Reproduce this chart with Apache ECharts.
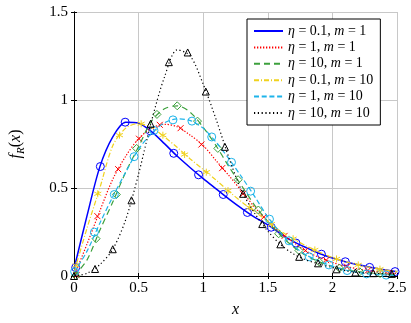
<!DOCTYPE html>
<html>
<head>
<meta charset="utf-8">
<script src="https://cdn.jsdelivr.net/npm/echarts@6/dist/echarts.min.js"></script>
<style>
  html, body { margin: 0; padding: 0; background: #fff; }
  #main { width: 411px; height: 323px; }
</style>
</head>
<body>
<div id="main"></div>
<script>
// curve samples (x step 0.1)
var xGrid = [0, 0.1, 0.2, 0.3, 0.4, 0.5, 0.6, 0.7, 0.8, 0.9, 1.0, 1.1, 1.2, 1.3, 1.4, 1.5, 1.6, 1.7, 1.8, 1.9, 2.0, 2.1, 2.2, 2.3, 2.4, 2.5];

var blueY   = [0.04, 0.34, 0.62, 0.79, 0.874, 0.868, 0.82, 0.752, 0.68, 0.615, 0.553, 0.495, 0.437, 0.383, 0.333, 0.29, 0.24, 0.195, 0.16, 0.128, 0.102, 0.081, 0.064, 0.048, 0.035, 0.024];
var redY    = [0.0, 0.18, 0.37, 0.55, 0.68, 0.78, 0.84, 0.862, 0.848, 0.8, 0.742, 0.655, 0.57, 0.48, 0.39, 0.31, 0.245, 0.19, 0.14, 0.105, 0.077, 0.055, 0.04, 0.028, 0.02, 0.014];
var greenY  = [0.0, 0.09, 0.26, 0.42, 0.59, 0.735, 0.88, 0.95, 0.967, 0.93, 0.845, 0.74, 0.62, 0.51, 0.40, 0.31, 0.23, 0.165, 0.115, 0.08, 0.055, 0.037, 0.025, 0.017, 0.011, 0.007];
var yellowY = [0.02, 0.27, 0.5, 0.74, 0.84, 0.866, 0.845, 0.79, 0.73, 0.665, 0.605, 0.545, 0.48, 0.42, 0.365, 0.31, 0.255, 0.21, 0.17, 0.135, 0.105, 0.082, 0.063, 0.047, 0.035, 0.025];
var cyanY   = [0.02, 0.14, 0.3, 0.45, 0.59, 0.72, 0.81, 0.87, 0.893, 0.883, 0.84, 0.76, 0.665, 0.56, 0.45, 0.335, 0.245, 0.17, 0.118, 0.085, 0.055, 0.034, 0.02, 0.01, 0.006, 0.003];
var blackY  = [0, 0.015, 0.065, 0.152, 0.32, 0.58, 0.88, 1.13, 1.285, 1.25, 1.09, 0.89, 0.67, 0.48, 0.355, 0.255, 0.178, 0.125, 0.09, 0.068, 0.048, 0.03, 0.02, 0.016, 0.013, 0.01];

// marker positions
var blueMarkX = [0.013, 0.204, 0.396, 0.59, 0.772, 0.964, 1.155, 1.342, 1.526, 1.718, 1.915, 2.10, 2.288, 2.485];
var blueMarkY = [0.048, 0.622, 0.874, 0.825, 0.697, 0.575, 0.463, 0.361, 0.277, 0.187, 0.124, 0.081, 0.049, 0.025];
var redMarkX = [0.02, 0.181, 0.342, 0.503, 0.664, 0.825, 0.986, 1.147, 1.308, 1.469, 1.63, 1.791, 1.952, 2.113, 2.274, 2.435];
var redMarkY = [0.005, 0.34, 0.607, 0.78, 0.859, 0.84, 0.747, 0.613, 0.467, 0.335, 0.228, 0.145, 0.09, 0.053, 0.031, 0.018];
var greenMarkX = [0.014, 0.171, 0.328, 0.485, 0.642, 0.799, 0.956, 1.113, 1.27, 1.427, 1.584, 1.741, 1.898, 2.055, 2.212, 2.369];
var greenMarkY = [0.002, 0.212, 0.463, 0.725, 0.918, 0.967, 0.88, 0.725, 0.547, 0.375, 0.24, 0.145, 0.08, 0.045, 0.024, 0.014];
var yellowMarkX = [0.016, 0.184, 0.352, 0.52, 0.688, 0.856, 1.024, 1.192, 1.36, 1.528, 1.696, 1.864, 2.032, 2.2, 2.368];
var yellowMarkY = [0.06, 0.467, 0.80, 0.865, 0.80, 0.69, 0.59, 0.485, 0.389, 0.295, 0.212, 0.148, 0.097, 0.063, 0.039];
var cyanMarkX = [0.005, 0.158, 0.312, 0.465, 0.619, 0.766, 0.913, 1.066, 1.219, 1.367, 1.513, 1.664, 1.82, 1.973, 2.114, 2.264, 2.416];
var cyanMarkY = [0.025, 0.249, 0.463, 0.678, 0.827, 0.887, 0.88, 0.79, 0.646, 0.482, 0.323, 0.2, 0.109, 0.063, 0.031, 0.012, 0.005];
var blackMarkX = [0, 0.163, 0.30, 0.445, 0.593, 0.734, 0.88, 1.02, 1.168, 1.309, 1.457, 1.597, 1.743, 1.889, 2.032, 2.178, 2.316, 2.46];
var blackMarkY = [0, 0.04, 0.152, 0.43, 0.865, 1.215, 1.27, 1.048, 0.734, 0.467, 0.295, 0.18, 0.109, 0.072, 0.038, 0.02, 0.016, 0.012];

var names = ['η = 0.1, m = 1', 'η = 1, m = 1', 'η = 10, m = 1', 'η = 0.1, m = 10', 'η = 1, m = 10', 'η = 10, m = 10'];

var serif = 'Liberation Serif';
var crossPath = 'path://M0,0L10,10M10,0L0,10';
var starPath = 'path://M5,0L5,10M0.7,2.5L9.3,7.5M0.7,7.5L9.3,2.5';

function pairs(xs, ys) {
    return xs.map(function (x, i) { return [x, ys[i]]; });
}

var curves = [
    { name: names[0], y: blueY,   mx: blueMarkX,   my: blueMarkY,   color: '#0000ff', width: 1.5, dash: 'solid',       symbol: 'circle',  size: 8 },
    { name: names[1], y: redY,    mx: redMarkX,    my: redMarkY,    color: '#ff0000', width: 1.2, dash: [1.3, 1.7],    symbol: crossPath, size: 6 },
    { name: names[2], y: greenY,  mx: greenMarkX,  my: greenMarkY,  color: '#3ca03c', width: 1.2, dash: [6, 4],        symbol: 'diamond', size: 8 },
    { name: names[3], y: yellowY, mx: yellowMarkX, my: yellowMarkY, color: '#f0d21e', width: 1.2, dash: [5, 2, 1, 2],  symbol: starPath,  size: 7 },
    { name: names[4], y: cyanY,   mx: cyanMarkX,   my: cyanMarkY,   color: '#1eb4ea', width: 1.2, dash: [5, 2.7],      symbol: 'circle',  size: 8 },
    { name: names[5], y: blackY,  mx: blackMarkX,  my: blackMarkY,  color: '#000000', width: 1.2, dash: [1.2, 2.6],    symbol: 'triangle', size: 7 }
];

var series = [];
curves.forEach(function (c, k) {
    series.push({
        name: c.name,
        type: 'line',
        smooth: 0.3,
        symbol: 'none',
        data: pairs(xGrid, c.y),
        lineStyle: { color: c.color, width: c.width, type: c.dash },
        itemStyle: { color: c.color },
        z: 2 + k * 2
    });
    series.push({
        name: 'mk' + k,
        type: 'scatter',
        symbol: c.symbol,
        symbolSize: c.size,
        data: pairs(c.mx, c.my),
        itemStyle: { color: 'rgba(0,0,0,0)', borderColor: c.color, borderWidth: 1, opacity: 1 },
        z: 3 + k * 2
    });
});

var axisCommon = {
    axisLine: { show: true, lineStyle: { color: '#000', width: 1 } },
    axisTick: { show: true, inside: true, length: 3, lineStyle: { color: '#000' } }
};

var chart = echarts.init(document.getElementById('main'));
chart.setOption({
    animation: false,
    backgroundColor: '#fff',
    grid: { left: 71, right: 14, top: 12, bottom: 43 },
    legend: {
        data: names,
        orient: 'vertical',
        left: 247,
        top: 19,
        padding: [5, 7, 5, 6],
        itemWidth: 29,
        itemHeight: 10,
        itemGap: 2.4,
        backgroundColor: '#fff',
        borderColor: '#000',
        borderWidth: 1,
        itemStyle: { color: 'rgba(0,0,0,0)', borderWidth: 0, opacity: 0 },
        formatter: function (n) {
            return n.replace('η', '{i|η}').replace('m =', '{i|m} =');
        },
        textStyle: {
            fontFamily: serif, fontSize: 14, color: '#000',
            rich: { i: { fontFamily: serif, fontSize: 14, fontStyle: 'italic', color: '#000' } }
        }
    },
    xAxis: [
        {
            type: 'value', min: 0, max: 2.5, interval: 0.5, position: 'bottom',
            axisLine: axisCommon.axisLine, axisTick: axisCommon.axisTick,
            splitLine: { show: true, lineStyle: { color: '#c8c8c8', width: 1 } },
            axisLabel: { margin: 5, fontFamily: serif, fontSize: 15, color: '#000' },
            name: 'x', nameLocation: 'middle', nameGap: 26,
            nameTextStyle: { fontFamily: serif, fontSize: 16, fontStyle: 'italic', color: '#000' }
        },
        {
            type: 'value', min: 0, max: 2.5, interval: 0.5, position: 'top',
            axisLine: axisCommon.axisLine, axisTick: axisCommon.axisTick,
            axisLabel: { show: false }, splitLine: { show: false }
        }
    ],
    yAxis: [
        {
            type: 'value', min: 0, max: 1.5, interval: 0.5, position: 'left',
            axisLine: axisCommon.axisLine, axisTick: axisCommon.axisTick,
            splitLine: { show: true, lineStyle: { color: '#c8c8c8', width: 1 } },
            axisLabel: { margin: 6, fontFamily: serif, fontSize: 15, color: '#000' },
            name: '{i|f}{s|R}{n|(}{i|x}{n|)}', nameLocation: 'middle', nameGap: 47,
            nameTextStyle: {
                fontFamily: serif, fontSize: 16, color: '#000',
                rich: {
                    i: { fontFamily: serif, fontSize: 16, fontStyle: 'italic', color: '#000', lineHeight: 22 },
                    n: { fontFamily: serif, fontSize: 16, color: '#000', lineHeight: 22 },
                    s: { fontFamily: serif, fontSize: 11, fontStyle: 'italic', color: '#000', verticalAlign: 'bottom', lineHeight: 22 }
                }
            }
        },
        {
            type: 'value', min: 0, max: 1.5, interval: 0.5, position: 'right',
            axisLine: axisCommon.axisLine, axisTick: axisCommon.axisTick,
            axisLabel: { show: false }, splitLine: { show: false }
        }
    ],
    series: series
});
</script>
</body>
</html>
